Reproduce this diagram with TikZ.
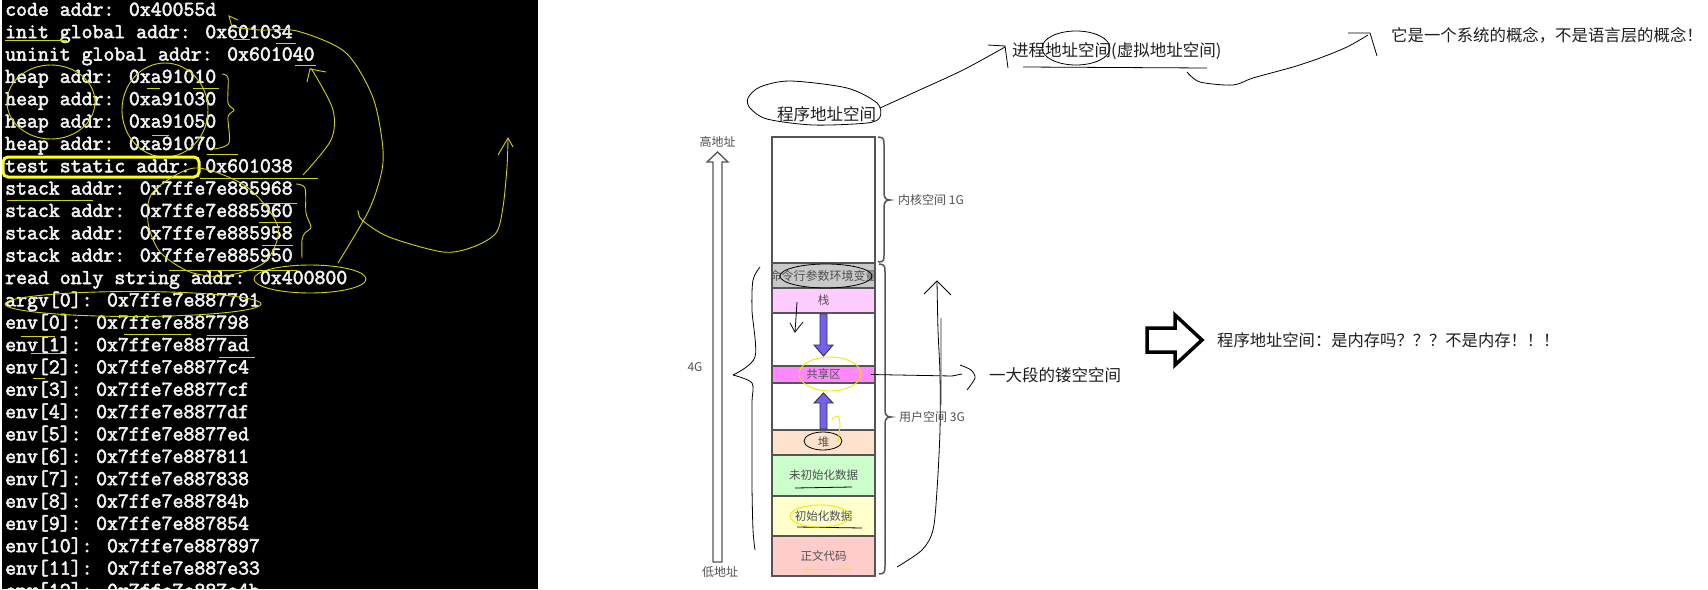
\documentclass[tikz,border=0pt]{standalone}
\usepackage{fontspec}
\setmainfont{Liberation Sans}
\newfontfamily\cjk{Noto Sans CJK SC}
\newfontfamily\mono{Latin Modern Mono}[FakeBold=2.6]
\definecolor{termwhite}{HTML}{F2F2F2}
\definecolor{yel}{HTML}{D2D214}
\definecolor{ybright}{HTML}{FFFF20}
\definecolor{yel2}{HTML}{F0E800}
\definecolor{segborder}{HTML}{555555}
\definecolor{segtext}{HTML}{505050}
\definecolor{notetext}{HTML}{1E1E1E}
\definecolor{cmdgray}{HTML}{C8C8C8}
\definecolor{stackpink}{HTML}{FFCCFF}
\definecolor{sharedmag}{HTML}{FF88FF}
\definecolor{heappeach}{HTML}{FFE2CC}
\definecolor{uninitgreen}{HTML}{CCFFCC}
\definecolor{inityellow}{HTML}{FFFFCC}
\definecolor{codepink}{HTML}{FFCCCC}
\definecolor{purp}{HTML}{7360F0}
\tikzset{
  term/.style={anchor=base west, inner sep=0pt, text=termwhite, font=\mono\fontsize{21.2}{22}\selectfont},
  seg/.style={draw=segborder, line width=1.6pt, minimum width=103pt, inner sep=0pt, text=segtext, font=\cjk\fontsize{11.5}{12}\selectfont},
  note/.style={inner sep=0pt, anchor=west, text=notetext, font=\cjk\fontsize{16.5}{18}\selectfont},
  small/.style={inner sep=0pt, text=segtext, font=\cjk\fontsize{12}{13}\selectfont},
  hand/.style={draw=black, line width=0.8pt},
  ylw/.style={draw=yel, line width=0.9pt},
  ylw2/.style={draw=yel2, line width=0.9pt},
  brc/.style={draw=segborder, line width=1.5pt},
}
\begin{document}
\begin{tikzpicture}[x=1pt,y=-1pt]
\useasboundingbox (0,0) rectangle (1708,589);
\fill[white] (0,0) rectangle (1708,589);
% ---------------- terminal panel ----------------
\begin{scope}
\clip (2,0) rectangle (538,589);
\fill[black] (2,0) rectangle (538,589);
\foreach \s [count=\i from 0] in {{code addr: 0x40055d},{init global addr: 0x601034},{uninit global addr: 0x601040},{heap addr: 0xa91010},{heap addr: 0xa91030},{heap addr: 0xa91050},{heap addr: 0xa91070},{test static addr: 0x601038},{stack addr: 0x7ffe7e885968},{stack addr: 0x7ffe7e885960},{stack addr: 0x7ffe7e885958},{stack addr: 0x7ffe7e885950},{read only string addr: 0x400800},{argv[0]: 0x7ffe7e887791},{env[0]: 0x7ffe7e887798},{env[1]: 0x7ffe7e8877ad},{env[2]: 0x7ffe7e8877c4},{env[3]: 0x7ffe7e8877cf},{env[4]: 0x7ffe7e8877df},{env[5]: 0x7ffe7e8877ed},{env[6]: 0x7ffe7e887811},{env[7]: 0x7ffe7e887838},{env[8]: 0x7ffe7e88784b},{env[9]: 0x7ffe7e887854},{env[10]: 0x7ffe7e887897},{env[11]: 0x7ffe7e887e33},{env[12]: 0x7ffe7e887e4b}}
  \node[term] (t\i) at (5,{15.8+22.35*\i}) {\s};
% yellow annotations
\draw[ylw] (51,102) ellipse [x radius=44, y radius=37];
\draw[ylw] (165,110) ellipse [x radius=43, y radius=47];
\draw[ylw] plot[smooth] coordinates {(222,74) (228,78) (228,103) (234,110) (228,117) (229,143) (214,149)};
\draw[ybright, line width=3pt, rounded corners=5pt] (3,157) rectangle (199,177);
\draw[ylw] (200,178) -- (318,178);
\draw[ylw] plot[smooth] coordinates {(303,175) (331,140) (333,110) (314,73) (310,69)};
\draw[ylw] (307,82) -- (310,69) -- (326,72);
\draw[ylw] plot[smooth] coordinates {(232,27) (260,30) (297,31) (345,52) (372,95) (382,140) (382,170) (369,210) (338,263)};
\draw[ylw] (238,20) -- (229,16) -- (232,27);
\draw[ylw] plot[smooth] coordinates {(358,210) (362,220) (389,237) (443,252) (473,247) (496,233) (503,207) (507,167) (508,139)};
\draw[ylw] (498,155) -- (508,138) -- (513,147);
\draw[ylw] plot[smooth cycle] coordinates {(195,168) (247,187) (278,227) (265,262) (225,276) (190,272) (160,252) (148,222) (153,192)};
\draw[ylw] plot[smooth] coordinates {(296,184) (305,188) (306,213) (311,227) (305,233) (302,240) (302,258)};
\draw[ylw] (310,279) ellipse [x radius=56, y radius=14];
\draw[ylw] (133,304) ellipse [x radius=128, y radius=12.5];
\foreach \a/\b/\c in {5/67/40, 233/250/39, 276/296/43, 295/316/65, 147/160/88, 193/219/88, 152/169/135, 207/238/154, 7/93/200, 259/297/203, 259/291/222, 262/293/245, 169/297/270, 21/55/336, 124/191/334, 207/247/335, 31/67/353, 219/255/357, 33/45/378}
  \draw[ylw] (\a,\c) -- (\b,\c);
\end{scope}
% ---------------- memory layout column ----------------
\node[seg, fill=white, minimum height=126pt] (kernel) at (823.5,200) {};
\node[seg, fill=cmdgray, minimum height=25pt] (cmd) at (823.5,275.5) {};
\node[seg, fill=stackpink, minimum height=25pt] (stack) at (823.5,300.5) {栈};
\node[seg, fill=white, minimum height=53pt] (gapa) at (823.5,339.5) {};
\node[seg, fill=sharedmag, minimum height=17pt] (shared) at (823.5,374.5) {共享区};
\node[seg, fill=white, minimum height=47pt] (gapb) at (823.5,406.5) {};
\node[seg, fill=heappeach, minimum height=25pt] (heap) at (823.5,442.5) {堆};
\node[seg, fill=uninitgreen, minimum height=41pt] (uninit) at (823.5,475.5) {未初始化数据};
\node[seg, fill=inityellow, minimum height=40pt] (init) at (823.5,516) {初始化数据};
\node[seg, fill=codepink, minimum height=40pt] (code) at (823.5,556) {正文代码};
\begin{scope}
\clip (772,264) rectangle (875,287);
\node[small] (cmdtext) at (823.5,276) {命令行参数环境变量};
\end{scope}
% purple arrows
\filldraw[fill=purp, draw=black!80, line width=0.9pt] (820,314) -- (820,345) -- (814,345) -- (823.5,356) -- (833,345) -- (827,345) -- (827,314) -- cycle;
\filldraw[fill=purp, draw=black!80, line width=0.9pt] (820,429) -- (820,403) -- (814,403) -- (823.5,393) -- (833,403) -- (827,403) -- (827,429) -- cycle;
% braces
\draw[brc] (878,137) .. controls (884,137) and (884,140) .. (884,145) -- (884,193) .. controls (884,198) and (886,200) .. (890,200) .. controls (886,200) and (884,202) .. (884,207) -- (884,255) .. controls (884,260) and (884,262) .. (878,262);
\draw[brc] (879,264) .. controls (885,264) and (885,267) .. (885,272) -- (885,410) .. controls (885,415) and (887,417) .. (891,417) .. controls (887,417) and (885,419) .. (885,424) -- (885,566) .. controls (885,571) and (885,574) .. (879,574);
\node[small, anchor=west] (kl) at (898,200) {内核空间 1G};
\node[small, anchor=west] (ul) at (899,417) {用户空间 3G};
% address arrow
\draw[segborder, line width=1.3pt, fill=white] (713,562) -- (713,162) -- (707,162) -- (717.5,152) -- (728,162) -- (722,162) -- (722,562) -- cycle;
\node[small] (hi) at (717.5,142) {高地址};
\node[small] (lo) at (720,572) {低地址};
\node[small] (fourg) at (695,367) {4G};
% ---------------- notes ----------------
\node[note] (prog) at (777,114) {程序地址空间};
\node[note] (proc) at (1012,51) {进程地址空间(虚拟地址空间)};
\node[note, font=\cjk\fontsize{16.4}{18}\selectfont] (sys) at (1391,35) {它是一个系统的概念，不是语言层的概念！};
\node[note] (hole) at (989,375) {一大段的镂空空间};
\node[note, font=\cjk\fontsize{16.3}{18}\selectfont] (mem) at (1217,340) {程序地址空间：是内存吗？？？不是内存！！！};
% hand-drawn black annotations
\draw[hand] plot[smooth cycle] coordinates {(760,87) (790,81) (847,88) (877,103) (880,117) (867,123) (813,125) (767,119) (750,108) (748,98)};
\draw[hand] plot[smooth] coordinates {(880,108) (913,93) (963,70) (1005,47)};
\draw[hand] (988,45) -- (1005,46) -- (1008,68);
\draw[hand] (1076,48) ellipse [x radius=34, y radius=17];
\draw[hand] (1023,67) -- (1207,68);
\draw[hand] plot[smooth] coordinates {(1187,72) (1200,82) (1233,85) (1253,78) (1293,67) (1320,58) (1347,47) (1368,35)};
\draw[hand] (1348,33) -- (1370,33) -- (1377,56);
\draw[hand] (826,276) ellipse [x radius=46, y radius=12];
\draw[hand] plot[smooth] coordinates {(760,267) (753,280) (752,310) (755,357) (733,375)};
\draw[hand] plot[smooth] coordinates {(733,375) (752,383) (752,403) (752,453) (752,487) (753,530) (755,550)};
\draw[hand] (797,302) -- (795,332);
\draw[hand] (790,323) -- (795,332) -- (803,322);
\draw[hand] (823,441) ellipse [x radius=19, y radius=9];
\draw[hand] (795,488) -- (852,487);
\draw[hand] (797,527) -- (862,528);
\draw[hand] (shared.east) ++(-5,0) -- (952,376) -- (962,374);
\draw[hand] plot[smooth] coordinates {(960,365) (971,370) (975,378) (967,390)};
\draw[gray!60, line width=1.3pt] (941,318) -- (941,405);
\draw[hand] plot[smooth] coordinates {(937,281) (938,330) (940,375) (940,430) (937,490) (933,530) (922,550) (897,567)};
\draw[hand] (924,294) -- (937,281) -- (951,295);
\draw[black, line width=3.5pt, line join=miter] (1147,328) -- (1175,328) -- (1175,315) -- (1202,340) -- (1175,365) -- (1175,352) -- (1147,352) -- cycle;
% yellow on white
\draw[ylw2] (830,374) ellipse [x radius=31, y radius=17];
\draw[ylw2] plot[smooth] coordinates {(832,419) (838,416) (840,425) (838,442)};
\draw[ylw2] (820,516) ellipse [x radius=30, y radius=11];
\draw[ylw2] (803,570) -- (852,569);
\end{tikzpicture}
\end{document}
